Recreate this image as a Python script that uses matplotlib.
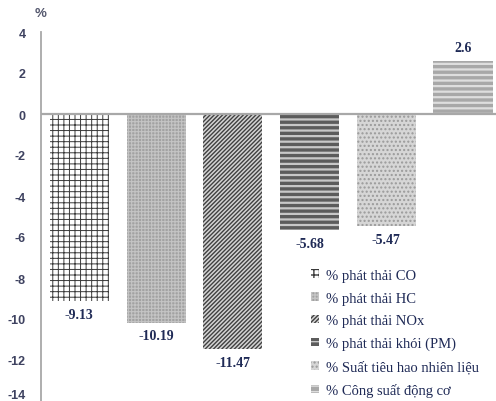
import matplotlib.pyplot as plt
import numpy as np

# % change of each quantity
labels = ["% phát thải CO", "% phát thải HC", "% phát thải NOx",
          "% phát thải khói (PM)", "% Suất tiêu hao nhiên liệu", "% Công suất động cơ"]
values = [-9.13, -10.19, -11.47, -5.68, -5.47, 2.6]
yticks = [4, 2, 0, -2, -4, -6, -8, -10, -12, -14]

# fill, hatch colour, hatch pattern, hatch width
styles = [
    ("white", "#3a3a3a", "+++", 0.7),
    ("#a2a2a2", "#c4c4c4", "+++++", 0.8),
    ("#d4d4d4", "#404040", "////////", 1.0),
    ("#5c5c5c", "#c8c8c8", "---", 1.6),
    ("#d6d6d6", "#9a9a9a", "....", 1.0),
    ("#a8a8a8", "#dedede", "---", 1.6),
]

navy = "#1f2a56"

fig = plt.figure(figsize=(4.96, 4.02), dpi=100)
ax = fig.add_axes([41 / 496, 0.0, 1 - 41 / 496, 1 - 33 / 402])

x = np.arange(len(values))
for i, (v, (fc, hc, h, hw)) in enumerate(zip(values, styles)):
    b = ax.bar(x[i], v, width=0.77, color=fc, edgecolor=hc, hatch=h,
               linewidth=0, label=labels[i], zorder=2)
    for p in b:
        p.set_hatch_linewidth(hw)

for xi, v in zip(x, values):
    off = 13 if v > 0 else -13
    ax.annotate(f"{v:g}", (xi, v), xytext=(0, off), textcoords="offset pixels",
                ha="center", va="center", fontsize=10, fontweight="bold",
                family="Liberation Serif", color=navy)

ax.set_xlim(-0.5, 5.43)
ax.set_ylim(-14, 4)
ax.set_yticks(yticks)
ax.set_yticklabels([str(t) for t in yticks], fontsize=9, fontweight="bold",
                   color="#3e4260", family="Liberation Sans")
ax.get_yticklabels()[-1].set_va("bottom")
ax.tick_params(axis="y", length=0, pad=11)
ax.set_xticks([])
for s in ["top", "right", "bottom"]:
    ax.spines[s].set_visible(False)
ax.spines["left"].set_color("#a8a8a8")
ax.spines["left"].set_linewidth(1.3)
ax.axhline(0, color="#a8a8a8", lw=1.6, zorder=3)

fig.text(41 / 496, 1 - 14 / 402, "%", ha="center", va="center", fontsize=9.5,
         fontweight="bold", color="#55586e", family="Liberation Sans")

leg = fig.legend(loc="upper left", bbox_to_anchor=(311 / 496, 1 - 270 / 402),
                 frameon=False, prop={"family": "Liberation Serif", "size": 10.5},
                 handlelength=0.55, handleheight=0.55, handletextpad=0.5,
                 labelspacing=0.66, borderpad=0, borderaxespad=0)
for t in leg.get_texts():
    t.set_color(navy)

fig.savefig("out.png", dpi=100)
